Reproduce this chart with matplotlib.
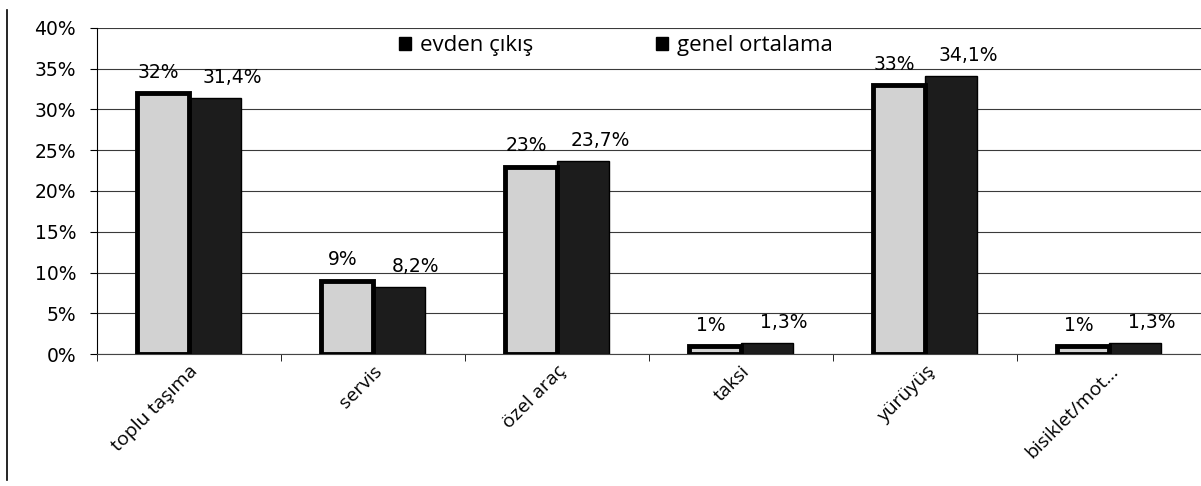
import numpy as np
import matplotlib
matplotlib.use('Agg')
import matplotlib.pyplot as plt
from matplotlib.patches import Patch
from matplotlib.lines import Line2D

# veriler
categories = ['toplu taşıma', 'servis', 'özel araç', 'taksi', 'yürüyüş', 'bisiklet/mot...']
evden_cikis = [32, 9, 23, 1, 33, 1]
genel_ortalama = [31.4, 8.2, 23.7, 1.3, 34.1, 1.3]
series_names = ['evden çıkış', 'genel ortalama']
yticks = [0, 5, 10, 15, 20, 25, 30, 35, 40]

fmt = lambda v: ('%g' % v).replace('.', ',') + '%'

W, H = 1201, 486
fig = plt.figure(figsize=(W / 100, H / 100), dpi=100)
ax = fig.add_axes([97 / W, 1 - 354 / H, 1 - 97 / W, (354 - 28) / H])

x = np.arange(len(categories))
w = 0.285
b1 = ax.bar(x - w / 2, evden_cikis, w, color='#d2d2d2', edgecolor='black',
            linewidth=3.5, zorder=3)
b2 = ax.bar(x + w / 2, genel_ortalama, w, color='#1c1c1c', edgecolor='black',
            linewidth=1, zorder=2)

# bar etiketleri
for xi, v in zip(x, evden_cikis):
    ax.annotate(fmt(v), (xi - w / 2, v), xytext=(-3, 15), textcoords='offset points',
                ha='center', va='center', fontsize=13.5, family='DejaVu Sans')
for xi, v in zip(x, genel_ortalama):
    ax.annotate(fmt(v), (xi + w / 2, v), xytext=(12, 15), textcoords='offset points',
                ha='center', va='center', fontsize=13.5, family='DejaVu Sans')

ax.set_xlim(-0.5, len(categories) - 0.5)
ax.set_ylim(0, 40)
ax.set_yticks(yticks)
ax.set_yticklabels(['%d%%' % t for t in yticks], fontsize=13.5, family='DejaVu Sans')
ax.yaxis.grid(True, color='#3a3a3a', linewidth=0.8, zorder=0)
ax.set_axisbelow(True)

ax.set_xticks(x)
ax.set_xticklabels(categories, rotation=45, ha='right', rotation_mode='anchor',
                   fontsize=14, family='Open Sans')
ax.tick_params(axis='x', which='major', length=0, pad=6)
ax.set_xticks(np.arange(-0.5, len(categories)), minor=True)
ax.tick_params(axis='x', which='minor', length=5, direction='out', color='black')
ax.tick_params(axis='y', length=5, direction='out', pad=10)

for s in ['top', 'right']:
    ax.spines[s].set_visible(False)
ax.spines['left'].set_color('black')
ax.spines['bottom'].set_color('#444444')

# lejant
handles = [Patch(facecolor='black', edgecolor='black'),
           Patch(facecolor='black', edgecolor='black')]
leg = ax.legend(handles, series_names, loc='center', bbox_to_anchor=(0.47, 0.945),
                ncol=2, frameon=False, prop={'family': 'Open Sans', 'size': 16},
                handlelength=0.55, handleheight=0.55, handletextpad=0.4,
                columnspacing=5.5)

# grafik çerçevesi (sol kenar)
fig.add_artist(Line2D([7 / W, 7 / W], [1 - 10 / H, 1 - 480 / H], color='black',
                      linewidth=1.2))

fig.savefig('out.png', dpi=100)
